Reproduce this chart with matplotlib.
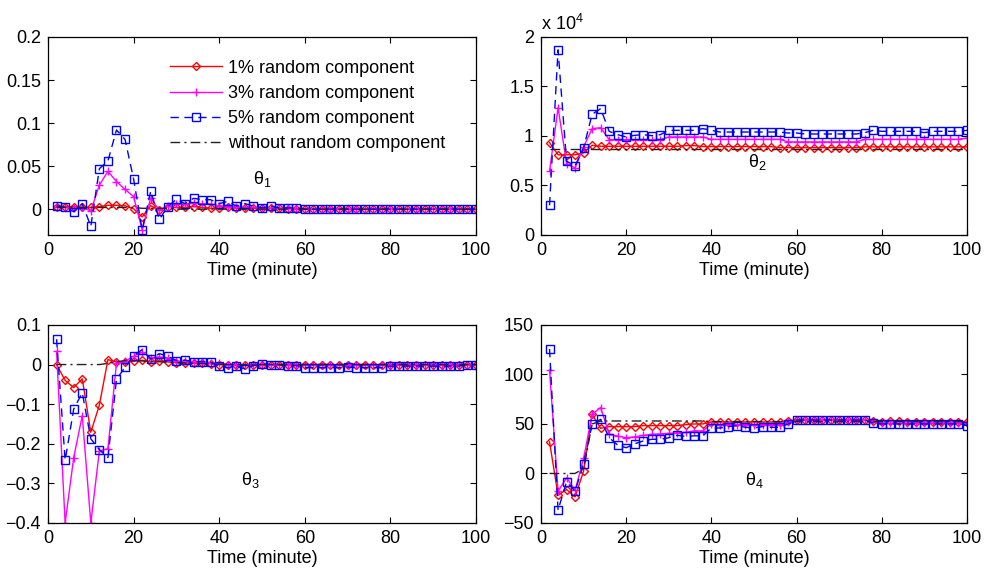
import numpy as np
import matplotlib
matplotlib.use('Agg')
import matplotlib.pyplot as plt

plt.rcParams['font.family'] = ['Liberation Sans', 'DejaVu Sans']
plt.rcParams['mathtext.fontset'] = 'custom'
plt.rcParams['mathtext.rm'] = 'Liberation Sans'
plt.rcParams['mathtext.it'] = 'Liberation Sans:italic'
plt.rcParams['font.size'] = 13

# time axis, one sample every 2 minutes
t = np.arange(2, 101, 2)

labels = ['1% random component', '3% random component',
          '5% random component', 'without random component']

# theta 1
th1_r1 = [0.003, 0.003, 0.003, 0.002, 0.002, 0.003, 0.0045, 0.0045, 0.004, 0.0005,
          -0.009, 0.004, -0.001, 0.003, 0.002, 0.002, 0.003, 0.002, 0.001, 0.001,
          0.002, 0.001, 0.001, 0.001, 0.001, 0.001, 0.001, 0.0005, 0.0005, 0,
          0, 0, 0, 0, 0, 0, 0, 0, 0, 0, 0, 0, 0, 0, 0, 0, 0, 0, 0, 0]
th1_r3 = [0.003, 0.002, 0.001, 0.002, -0.002, 0.028, 0.044, 0.032, 0.023, 0.0145,
          -0.024, 0.013, -0.0015, 0.004, 0.006, 0.006, 0.007, 0.006, 0.006, 0.004,
          0.003, 0.002, 0.002, 0.002, 0.001, 0.001, 0.001, 0.001, 0.0005, 0,
          0, 0, 0, 0, 0, 0, 0, 0, 0, 0, 0, 0, 0, 0, 0, 0, 0, 0, 0, 0]
th1_r5 = [0.004, 0.002, -0.003, 0.0065, -0.02, 0.047, 0.056, 0.092, 0.081, 0.035,
          -0.024, 0.021, -0.012, 0.003, 0.0115, 0.0065, 0.0126, 0.011, 0.011, 0.0065,
          0.009, 0.0035, 0.0065, 0.0035, 0.0015, 0.0035, 0.0015, 0.0015, 0.0015, 0,
          0, 0, 0, 0, 0, 0, 0, 0, 0, 0, 0, 0, 0, 0, 0, 0, 0, 0, 0, 0]
th1_r0 = [0.002, 0.002, 0.002, 0.002, 0.002, 0.002, 0.002, 0.002, 0.002, 0.002,
          0.001, 0.001, 0.001, 0.001, 0, 0, 0, 0, 0, 0,
          0, 0, 0, 0, 0, 0, 0, 0, 0, 0, 0, 0, 0, 0, 0, 0, 0, 0, 0, 0,
          0, 0, 0, 0, 0, 0, 0, 0, 0, 0]

# theta 2 (x 10^4)
th2_r1 = [0.933, 0.81, 0.81, 0.81, 0.83, 0.906, 0.896,
          0.896, 0.896, 0.896, 0.896, 0.896, 0.896, 0.896, 0.896, 0.896,
          0.903, 0.903,
          0.893, 0.893, 0.893, 0.893, 0.893, 0.893, 0.893, 0.893, 0.893,
          0.882, 0.882, 0.882, 0.882, 0.882, 0.882, 0.882, 0.882, 0.882, 0.882,
          0.89, 0.89, 0.89, 0.89, 0.89, 0.89, 0.89, 0.89, 0.89, 0.89, 0.89, 0.89, 0.89]
th2_r3 = [0.643, 1.286, 0.72, 0.677, 0.89, 1.074, 1.084,
          0.963, 0.963, 0.963, 0.963, 0.963, 0.963, 0.963,
          0.99, 0.99, 0.99, 0.99, 0.99,
          0.966, 0.966, 0.966, 0.966, 0.966, 0.966, 0.966, 0.966, 0.966,
          0.94, 0.94, 0.94, 0.94, 0.94, 0.94, 0.94, 0.94, 0.94,
          0.966, 0.966, 0.966, 0.966, 0.966, 0.966, 0.966, 0.966, 0.966, 0.966, 0.966, 0.966,
          0.98]
th2_r5 = [0.30, 1.87, 0.744, 0.70, 0.88, 1.22, 1.276, 1.047, 1.013, 0.99,
          1.007, 1.013, 1.003, 1.013, 1.057, 1.057, 1.057, 1.057, 1.074, 1.057,
          1.04, 1.04, 1.04, 1.04, 1.04, 1.04, 1.04, 1.04,
          1.03, 1.03,
          1.02, 1.02, 1.02, 1.02, 1.02, 1.02, 1.02,
          1.034, 1.057,
          1.047, 1.047, 1.047, 1.047, 1.047,
          1.034,
          1.047, 1.047, 1.047, 1.047,
          1.057]
th2_r0 = [0.866] * 50

# theta 3
th3_r1 = [0.0, -0.04, -0.058, -0.036, -0.171, -0.1025, 0.0125, 0.0067, 0.0067, 0.008,
          0.011, 0.006, 0.01, 0.0067, 0.004, 0.004, 0.003, 0.003, 0.002, 0.0,
          -0.002, 0.0, -0.002, 0.0, -0.002, 0.0, 0.0, -0.002, 0.0, -0.002,
          0.0, 0.0, -0.002, 0.0, -0.002, 0.0, 0.0, -0.002, 0.0, 0.0,
          -0.002, 0.0, 0.0, -0.002, 0.0, 0.0, 0.0, 0.0, 0.0, 0.0]
th3_r3 = [0.033, -0.40, -0.235, -0.129, -0.40, -0.218, -0.2125, 0.004, 0.008, 0.021,
          0.031, 0.017, 0.019, 0.017, 0.008, 0.008, 0.006, 0.006, 0.005, 0.003,
          0.0, -0.002, 0.0, -0.002, 0.0, 0.0, -0.002, 0.0, -0.002, 0.0,
          -0.002, 0.0, 0.0, -0.002, 0.0, 0.0, -0.002, 0.0, 0.0, -0.002,
          0.0, 0.0, -0.002, 0.0, 0.0, 0.0, 0.0, 0.0, 0.0, 0.0]
th3_r5 = [0.064, -0.242, -0.1125, -0.071, -0.1875, -0.215, -0.235, -0.0375, -0.0067, 0.0225,
          0.0375, 0.014, 0.0275, 0.021, 0.01, 0.011, 0.0075, 0.007, 0.006, -0.004,
          -0.008, -0.004, -0.011, -0.0025, 0.0017, 0.0, 0.0, -0.004, -0.0025, -0.008,
          -0.008, -0.008, -0.008, -0.008, -0.006, -0.008, -0.008, -0.008, -0.008, -0.004,
          -0.004, -0.004, -0.004, -0.004, -0.004, -0.004, -0.004, -0.004, 0.0, 0.0]
th3_r0 = [0, 0, 0, 0, 0, 0, 0.003, 0.007, 0.01, 0.01,
          0.009, 0.008, 0.007, 0.006, 0.005, 0.004, 0.003, 0.002, 0.002, 0.001,
          0, 0, 0, 0, 0, 0, 0, 0, 0, 0, 0, 0, 0, 0, 0, 0, 0, 0, 0, 0,
          0, 0, 0, 0, 0, 0, 0, 0, 0, 0]

# theta 4
th4_r1 = [32, -22, -16.2, -23.6, 2.4, 59.8, 45.6, 47.3, 47.3, 47.3,
          47.3, 48.3, 48.3, 48.3, 48.3, 48.3, 49.3, 50, 50, 52,
          52, 52, 52, 52, 52, 52, 52, 51.7, 53.4, 54,
          54, 54, 54, 54, 54, 54, 54, 54,
          53.4, 51.7, 53, 53,
          52, 52, 52, 52, 52, 52, 52, 52]
th4_r3 = [104.4, -18, -4.4, -17, 15.2, 59.8, 66.6, 39.5, 37.8, 36.1,
          37, 38.5, 39.5, 40, 40.5, 41, 41.5, 43, 43, 50,
          49.3, 49.3, 49.3, 49.3, 49.3, 49.3, 49.3, 49.3,
          52,
          54, 54, 54, 54, 54, 54, 54, 54, 54,
          52.4,
          50.7, 50.7, 50.7, 50.7, 50.7, 50.7, 50.7, 50.7, 50.7, 50.7, 50.7]
th4_r5 = [125.7, -37, -8.4, -18, 9.8, 49.7, 54.7, 36.1, 28.7, 26,
          30, 32.8, 34.5, 34.5, 36.1, 38.5, 37.4, 38, 38, 45.9,
          45.9, 47.3, 48.3, 46.6, 46, 47.3, 46.6, 46.6, 50, 54,
          54, 54, 54, 54, 54, 54, 54, 54,
          51,
          50, 50, 50, 50, 50, 50, 50, 50, 50, 50,
          48.3]
th4_r0 = [0, 0, 0, 0, 5, 50, 53,
          53, 53, 53, 53, 53, 53, 53, 53, 53, 53, 53, 53,
          52.4, 52.4, 52.4, 52.4, 52.4, 52.4, 52.4, 52.4, 52.4, 52.4, 52.4,
          52.4, 52.4, 52.4, 52.4, 52.4, 52.4, 52.4, 52.4, 52.4, 52.4, 52.4,
          52.4, 52.4, 52.4, 52.4, 52.4, 52.4, 52.4, 52.4, 52.4]

panels = [
    dict(data=[th1_r1, th1_r3, th1_r5, th1_r0], ylim=(-0.03, 0.2),
         yticks=[0, 0.05, 0.1, 0.15, 0.2], yticklabels=['0', '0.05', '0.1', '0.15', '0.2'],
         name='θ$_1$', name_xy=(48, 0.029)),
    dict(data=[th2_r1, th2_r3, th2_r5, th2_r0], ylim=(0, 2),
         yticks=[0, 0.5, 1, 1.5, 2], yticklabels=['0', '0.5', '1', '1.5', '2'],
         name='θ$_2$', name_xy=(48.5, 0.69)),
    dict(data=[th3_r1, th3_r3, th3_r5, th3_r0], ylim=(-0.4, 0.1),
         yticks=[-0.4, -0.3, -0.2, -0.1, 0, 0.1],
         yticklabels=['\u22120.4', '\u22120.3', '\u22120.2', '\u22120.1', '0', '0.1'],
         name='θ$_3$', name_xy=(45, -0.305)),
    dict(data=[th4_r1, th4_r3, th4_r5, th4_r0], ylim=(-50, 150),
         yticks=[-50, 0, 50, 100, 150], yticklabels=['\u221250', '0', '50', '100', '150'],
         name='θ$_4$', name_xy=(48, -12)),
]

styles = [
    dict(color='#ff0000', ls='-', marker='D', ms=4, mfc='none', mew=1.0),
    dict(color='#ff00ff', ls='-', marker='+', ms=6, mew=1.0),
    dict(color='#0000ff', ls=(0, (6, 4)), marker='s', ms=6, mfc='none', mew=1.0),
    dict(color='#222222', ls=(0, (7, 3, 1.5, 3)), marker=None),
]

fig = plt.figure(figsize=(9.86, 5.74), dpi=100)
positions = [[0.0487, 0.5906, 0.434, 0.345], [0.5487, 0.5906, 0.432, 0.345],
             [0.0487, 0.0889, 0.434, 0.345], [0.5487, 0.0889, 0.432, 0.345]]

for i, p in enumerate(panels):
    ax = fig.add_axes(positions[i])
    for y, st, lab in zip(p['data'], styles, labels):
        ax.plot(t, y, lw=1.0, label=lab, **st)
    ax.set_xlim(0, 100)
    ax.set_ylim(*p['ylim'])
    ax.set_xticks([0, 20, 40, 60, 80, 100])
    ax.set_yticks(p['yticks'])
    ax.set_yticklabels(p['yticklabels'])
    ax.tick_params(direction='in', top=True, right=True, length=4, width=0.8,
                   labelsize=13, pad=5)
    for s in ax.spines.values():
        s.set_linewidth(0.9)
    ax.set_xlabel('Time (minute)', fontsize=13, labelpad=2)
    ax.text(p['name_xy'][0], p['name_xy'][1], p['name'], fontsize=13,
            ha='left', va='baseline')
    if i == 0:
        ax.legend(loc='upper left', bbox_to_anchor=(0.284, 0.885), frameon=False,
                  fontsize=13, numpoints=1, handlelength=2.9, labelspacing=0.45,
                  handletextpad=0.35, borderaxespad=0, borderpad=0)
    if i == 1:
        ax.text(0.0, 1.015, 'x 10$^4$', transform=ax.transAxes, fontsize=13,
                ha='left', va='bottom')

fig.savefig('out.png', dpi=100)
